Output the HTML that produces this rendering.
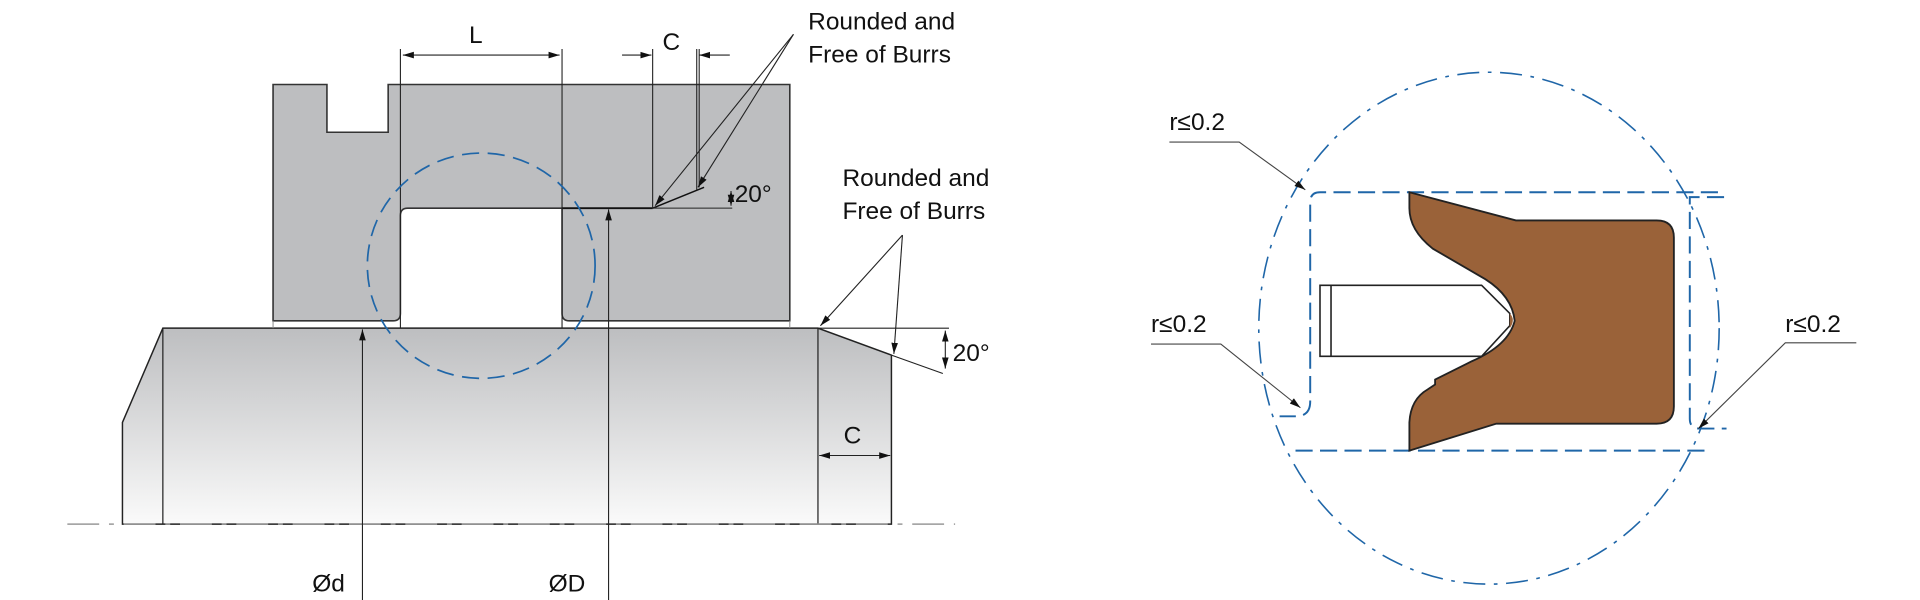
<!DOCTYPE html>
<html><head><meta charset="utf-8"><style>
html,body{margin:0;padding:0;background:#fff;width:1920px;height:600px;overflow:hidden}
svg{display:block}
text{font-family:"Liberation Sans",sans-serif;fill:#111}
</style></head><body>
<svg width="1920" height="600" viewBox="0 0 1568 490" xmlns="http://www.w3.org/2000/svg">
<defs>
<linearGradient id="g" x1="0" y1="0" x2="0" y2="1">
<stop offset="0" stop-color="#bdbec0"/><stop offset="1" stop-color="#fafafa"/></linearGradient>
<marker id="a" viewBox="0 0 10 10" refX="10" refY="5" markerWidth="9" markerHeight="9" orient="auto-start-reverse" markerUnits="userSpaceOnUse"><path d="M0,2 L10,5 L0,8 z" fill="#111"/></marker>
</defs>
<path d="M133,268 L668,268 L728,290 L728,428 L100,428 L100,345 Z" fill="url(#g)" stroke="#222" stroke-width="1.2"/>
<line x1="133" y1="268" x2="133" y2="428" stroke="#222" stroke-width="1"/>
<line x1="668" y1="268" x2="668" y2="428" stroke="#222" stroke-width="1"/>
<path d="M223,69 L267,69 L267,108 L317,108 L317,69 L645,69 L645,262 L465,262 Q459,262 459,256 L459,170 L333,170 Q327,170 327,176 L327,256 Q327,262 321,262 L223,262 Z" fill="#bdbec0" stroke="#333" stroke-width="1.3"/>
<line x1="459" y1="170" x2="533" y2="170" stroke="#111" stroke-width="1.5"/>
<line x1="533" y1="170" x2="575" y2="153" stroke="#111" stroke-width="1.2"/>
<line x1="533" y1="170" x2="598" y2="170" stroke="#222" stroke-width="0.8"/>
<line x1="223" y1="262" x2="223" y2="268" stroke="#888" stroke-width="0.8"/>
<line x1="645" y1="262" x2="645" y2="268" stroke="#888" stroke-width="0.8"/>
<line x1="55" y1="428" x2="780" y2="428" stroke="#999" stroke-width="1.2" stroke-dasharray="26,8,4,8"/>
<g stroke="#222" stroke-width="0.9" fill="none">
<line x1="327" y1="40" x2="327" y2="268"/><line x1="459" y1="40" x2="459" y2="268"/>
<line x1="329" y1="45" x2="457" y2="45" marker-start="url(#a)" marker-end="url(#a)"/>
<line x1="533" y1="40" x2="533" y2="170"/><line x1="569" y1="40" x2="569" y2="155"/><line x1="571" y1="40" x2="571" y2="153"/>
<line x1="508" y1="45" x2="532" y2="45" marker-end="url(#a)"/>
<line x1="596" y1="45" x2="571" y2="45" marker-end="url(#a)"/>
<line x1="597" y1="156" x2="597" y2="168" marker-start="url(#a)" marker-end="url(#a)"/>
<line x1="296" y1="490" x2="296" y2="269" marker-end="url(#a)"/>
<line x1="497" y1="490" x2="497" y2="171" marker-end="url(#a)"/>
<line x1="669" y1="372" x2="727" y2="372" marker-start="url(#a)" marker-end="url(#a)"/>
<line x1="668" y1="268" x2="775" y2="268"/>
<line x1="728" y1="290" x2="770" y2="305"/>
<line x1="772" y1="270" x2="772" y2="301" marker-start="url(#a)" marker-end="url(#a)"/>
<line x1="648" y1="28" x2="535" y2="168" marker-end="url(#a)"/>
<line x1="648" y1="28" x2="570" y2="153" marker-end="url(#a)"/>
<line x1="737" y1="192" x2="670" y2="266" marker-end="url(#a)"/>
<line x1="737" y1="192" x2="730" y2="289" marker-end="url(#a)"/>
</g>
<ellipse cx="393" cy="217" rx="93" ry="92" fill="none" stroke="#1f66a8" stroke-width="1.4" stroke-dasharray="14,7"/>
<g font-size="20">
<text x="383" y="35">L</text>
<text x="541" y="41">C</text>
<text x="600" y="165">20°</text>
<text x="660" y="24">Rounded and</text>
<text x="660" y="51">Free of Burrs</text>
<text x="688" y="152">Rounded and</text>
<text x="688" y="179">Free of Burrs</text>
<text x="778" y="295">20°</text>
<text x="689" y="362">C</text>
<text x="255" y="483">Ød</text>
<text x="448" y="483">ØD</text>
</g>
<ellipse cx="1216" cy="268" rx="188" ry="209" fill="none" stroke="#1f66a8" stroke-width="1.3" stroke-dasharray="18,7,3,7"/>
<g fill="none" stroke="#1f66a8" stroke-width="1.6" stroke-dasharray="14,6">
<path d="M1403,157 L1078,157 Q1070,157 1070,165 L1070,328 Q1070,340 1058,340 L1045,340"/>
<line x1="1058" y1="368" x2="1398" y2="368"/>
<path d="M1408,161 L1380,161 L1380,342 Q1380,350 1388,350 L1410,350"/>
</g>
<path d="M1151,157 L1238,180 L1353,180 Q1367,180 1367,194 L1367,332 Q1367,346 1353,346 L1222,346 L1151,368 L1151,345 Q1152,326 1166,318 L1172,314 L1172,310 L1198,297 L1202,295 Q1232,282 1237,262 Q1235,242 1213,228 L1170,203 Q1151,188 1151,170 Z" fill="#9a6239" stroke="#222" stroke-width="1.5"/>
<path d="M1078,233 L1210,233 L1233,256 L1233,266 L1210,291 L1078,291 Z" fill="#fff" stroke="#222" stroke-width="1.3"/>
<line x1="1087" y1="233" x2="1087" y2="291" stroke="#222" stroke-width="1.3"/>
<path d="M1233,256 Q1238,261 1233,268" fill="#9a6239" stroke="none"/>
<g stroke="#444" stroke-width="0.9" fill="none">
<path d="M955,116 L1012,116 L1066,155" marker-end="url(#a)"/>
<path d="M940,281 L997,281 L1062,333" marker-end="url(#a)"/>
<path d="M1516,280 L1458,280 L1387,350" marker-end="url(#a)"/>
</g>
<g font-size="20">
<text x="955" y="106">r≤0.2</text>
<text x="940" y="271">r≤0.2</text>
<text x="1458" y="271">r≤0.2</text>
</g>
</svg>
</body></html>
